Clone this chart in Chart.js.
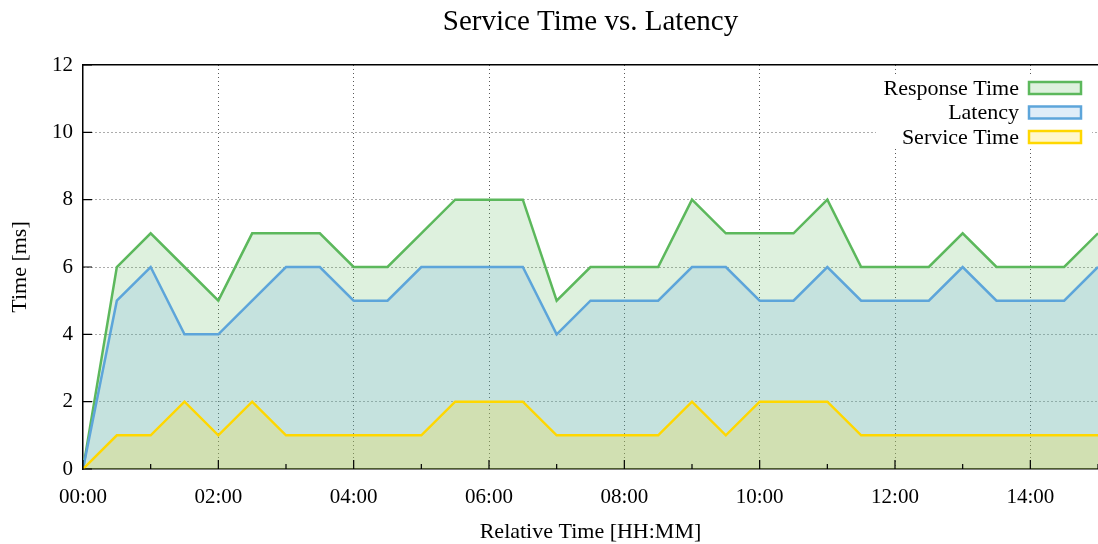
<!DOCTYPE html>
<html>
<head>
<meta charset="utf-8">
<script src="https://cdn.jsdelivr.net/npm/chart.js@4/dist/chart.umd.min.js"></script>
<style>
  html, body { margin: 0; padding: 0; background: #fff; }
  #wrap { width: 1098px; height: 544px; }
</style>
</head>
<body>
<div id="wrap"><canvas id="chart" width="1098" height="544"></canvas></div>
<script>
// relative time in hours (one sample every 30 min)
const hours = [0, 0.5, 1, 1.5, 2, 2.5, 3, 3.5, 4, 4.5, 5, 5.5, 6, 6.5, 7, 7.5,
  8, 8.5, 9, 9.5, 10, 10.5, 11, 11.5, 12, 12.5, 13, 13.5, 14, 14.5, 15];

const responseTime = [0, 6, 7, 6, 5, 7, 7, 7, 6, 6, 7, 8, 8, 8, 5, 6,
  6, 6, 8, 7, 7, 7, 8, 6, 6, 6, 7, 6, 6, 6, 7];
const latency = [0, 5, 6, 4, 4, 5, 6, 6, 5, 5, 6, 6, 6, 6, 4, 5,
  5, 5, 6, 6, 5, 5, 6, 5, 5, 5, 6, 5, 5, 5, 6];
const serviceTime = [0, 1, 1, 2, 1, 2, 1, 1, 1, 1, 1, 2, 2, 2, 1, 1,
  1, 1, 2, 1, 2, 2, 2, 1, 1, 1, 1, 1, 1, 1, 1];

const seriesNames = ["Response Time", "Latency", "Service Time"];
const yTicks = [0, 2, 4, 6, 8, 10, 12];

const FONT = "'Liberation Serif', 'DejaVu Serif', serif";
const colores = {
  "Response Time": { line: "#5cb85c", fill: "rgba(92, 184, 92, 0.2)" },
  "Latency": { line: "#5da5da", fill: "rgba(93, 165, 218, 0.2)" },
  "Service Time": { line: "#ffd700", fill: "rgba(255, 215, 0, 0.2)" }
};

function puntos(valores) {
  return hours.map((h, i) => ({ x: h, y: valores[i] }));
}

function hhmm(h) {
  return String(h).padStart(2, "0") + ":00";
}

function serie(nombre, valores, orden) {
  return {
    label: nombre,
    data: puntos(valores),
    borderColor: colores[nombre].line,
    backgroundColor: colores[nombre].fill,
    borderWidth: 2.5,
    pointRadius: 0,
    tension: 0,
    fill: "origin",
    order: orden
  };
}

function sinRelleno(s) {
  s.paddingLeft = 0;
  s.paddingRight = 0;
}

// inner tick marks (gnuplot style) + legend inside the plot
const marcasYLeyenda = {
  id: "marcasYLeyenda",
  afterDatasetsDraw(chart) {
    const { ctx, chartArea } = chart;
    const x = chart.scales.x;
    const y = chart.scales.y;
    ctx.save();
    ctx.strokeStyle = "#000";
    ctx.lineWidth = 1.2;
    ctx.beginPath();
    x.ticks.forEach(t => {
      const px = x.getPixelForValue(t.value);
      const len = t.value % 2 === 0 ? 9 : 5;
      ctx.moveTo(px, chartArea.bottom);
      ctx.lineTo(px, chartArea.bottom - len);
    });
    yTicks.forEach(v => {
      const py = y.getPixelForValue(v);
      ctx.moveTo(chartArea.left, py);
      ctx.lineTo(chartArea.left + 9, py);
    });
    ctx.stroke();

    // legend
    ctx.fillStyle = "#fff";
    ctx.fillRect(876, 76, 216, 72);
    ctx.font = "22px " + FONT;
    ctx.textAlign = "right";
    ctx.textBaseline = "middle";
    seriesNames.forEach((nombre, i) => {
      const cy = 88 + i * 24.5;
      ctx.fillStyle = "#000";
      ctx.fillText(nombre, 1019, cy + 1);
      ctx.fillStyle = colores[nombre].fill;
      ctx.fillRect(1029, cy - 6, 52, 12);
      ctx.strokeStyle = colores[nombre].line;
      ctx.lineWidth = 2.5;
      ctx.strokeRect(1029, cy - 6, 52, 12);
    });
    ctx.restore();
  }
};

new Chart(document.getElementById("chart"), {
  type: "line",
  data: {
    datasets: [
      serie("Response Time", responseTime, 3),
      serie("Latency", latency, 2),
      serie("Service Time", serviceTime, 1)
    ]
  },
  options: {
    responsive: false,
    animation: false,
    layout: { padding: 0 },
    plugins: {
      legend: { display: false },
      title: { display: false },
      tooltip: { enabled: false }
    },
    scales: {
      x: {
        type: "linear",
        min: 0,
        max: 15,
        afterFit: s => { s.height = 75; sinRelleno(s); },
        ticks: {
          stepSize: 1,
          autoSkip: false,
          maxRotation: 0,
          padding: 16,
          color: "#000",
          font: { family: FONT, size: 21 },
          callback: v => (v % 2 === 0 ? hhmm(v) : "")
        },
        grid: {
          drawTicks: false,
          color: c => (c.tick && c.tick.value % 2 === 0 && c.tick.value !== 0 ? "rgba(0,0,0,0.65)" : "rgba(0,0,0,0)"),
          lineWidth: 1
        },
        border: { display: true, color: "#000", width: 1.5, dash: [1, 3] },
        title: {
          display: true,
          text: "Relative Time [HH:MM]",
          color: "#000",
          font: { family: FONT, size: 22 },
          padding: { top: 0, bottom: -1 }
        }
      },
      x2: {
        type: "linear",
        position: "top",
        afterFit: s => { s.height = 65; sinRelleno(s); },
        ticks: { display: false },
        grid: { display: false, drawTicks: false },
        border: { display: true, color: "#000", width: 1.5 },
        title: {
          display: true,
          text: "Service Time vs. Latency",
          color: "#000",
          font: { family: FONT, size: 29 },
          padding: { top: 5, bottom: 0 }
        }
      },
      y: {
        min: 0,
        max: 12,
        afterFit: s => { s.width = 83; },
        ticks: {
          stepSize: 2,
          padding: 10,
          color: "#000",
          font: { family: FONT, size: 21 }
        },
        grid: {
          drawTicks: false,
          color: c => (c.tick && c.tick.value > 0 && c.tick.value < 12 ? "rgba(0,0,0,0.65)" : "rgba(0,0,0,0)"),
          lineWidth: 1
        },
        border: { display: true, color: "#000", width: 1.5, dash: [1, 3] },
        title: {
          display: true,
          text: "Time [ms]",
          color: "#000",
          font: { family: FONT, size: 22 },
          padding: { top: 7, bottom: 0 }
        }
      }
    }
  },
  plugins: [marcasYLeyenda]
});
</script>
</body>
</html>
